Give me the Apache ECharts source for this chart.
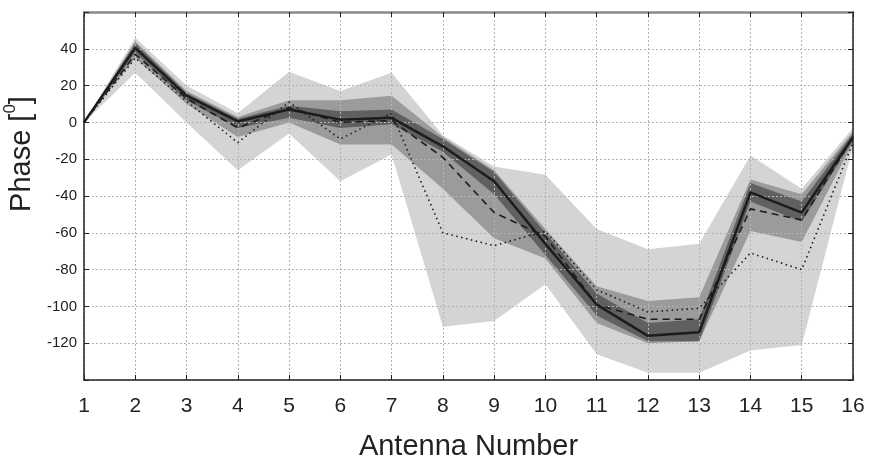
<!DOCTYPE html>
<html>
<head>
<meta charset="utf-8">
<script src="https://cdn.jsdelivr.net/npm/echarts@6/dist/echarts.min.js"></script>
<style>
  html, body { margin: 0; padding: 0; background: #fff; }
  #chart { width: 870px; height: 457px; }
</style>
</head>
<body>
<div id="chart"></div>
<script>
// antenna index along the x axis
var antennas = ["1", "2", "3", "4", "5", "6", "7", "8", "9", "10", "11", "12", "13", "14", "15", "16"];

// the three lines
var solidLine = [0, 40.5, 14.5, 0.5, 7, 1.5, 2.5, -13, -32, -66, -99, -116, -114, -38, -49, -8];
var dashedLine = [0, 37, 13, -3, 8, 0, 1, -19, -49, -62, -99, -107, -107, -47, -53, -8];
var dottedLine = [0, 35, 11.5, -11, 11, -9, 5, -60, -67, -59, -91, -103, -101, -71, -80, -11];

// shaded bands (outer light, middle, inner dark)
var lightLow = [0, 27, 0, -26, -6, -32, -17.5, -111, -108, -88, -126, -136, -136, -124, -121, -13];
var lightHigh = [0, 46, 20, 5, 27.5, 17, 27, -7, -24, -28.5, -58, -69, -66, -18, -36, -3];
var midLow = [0, 35, 10, -8, 0, -12, -12, -36, -63, -74, -109, -120, -119, -59, -65, -11];
var midHigh = [0, 44, 17, 3, 12, 12, 14.5, -8, -26, -58, -89, -97, -95, -31, -39, -5];
var darkLow = [0, 38, 12, -3, 2.5, -3, -1, -16, -39, -72, -105, -119, -119, -43, -54, -10];
var darkHigh = [0, 43, 16, 2, 9, 6, 7, -9, -27, -60, -93, -109, -107, -33, -43, -6];

// y tick values that get a label
var yTickLabels = [-120, -100, -80, -60, -40, -20, 0, 20, 40];

var chart = echarts.init(document.getElementById("chart"));

function widths(lo, hi) {
  return lo.map(function (v, i) { return hi[i] - v; });
}

// one band = invisible lower series + stacked width series with fill
function band(name, lo, hi, color) {
  return [
    {
      name: name + "_base",
      type: "line",
      data: lo,
      stack: name,
      stackStrategy: "all",
      symbol: "none",
      lineStyle: { opacity: 0 },
      silent: true,
      z: 1
    },
    {
      name: name,
      type: "line",
      data: widths(lo, hi),
      stack: name,
      stackStrategy: "all",
      symbol: "none",
      lineStyle: { opacity: 0 },
      areaStyle: { color: color, opacity: 1 },
      silent: true,
      z: 1
    }
  ];
}

var font = "Liberation Sans, Arial, sans-serif";
var gridLine = { show: true, lineStyle: { color: "#b4b4b4", type: [2, 2], width: 1 } };

var option = {
  backgroundColor: "#fff",
  animation: false,
  grid: { left: 84, right: 17, top: 12, bottom: 77, outerBoundsMode: "none" },
  xAxis: [
    {
      type: "category",
      data: antennas,
      boundaryGap: false,
      z: 1.5,
      axisLine: { onZero: false, lineStyle: { color: "#222", width: 1.5 } },
      axisTick: { inside: true, length: 5, alignWithLabel: true, lineStyle: { color: "#222" } },
      axisLabel: { fontSize: 21, color: "#222", fontFamily: font, margin: 16, interval: 0 },
      splitLine: { show: true, interval: 0, lineStyle: gridLine.lineStyle },
      name: "Antenna Number",
      nameLocation: "middle",
      nameGap: 52,
      nameTextStyle: { fontSize: 29, color: "#222", fontFamily: font }
    },
    {
      type: "category",
      data: antennas,
      boundaryGap: false,
      position: "top",
      z: 1.5,
      axisLine: { onZero: false, lineStyle: { color: "#8a8a8a", width: 2.5 } },
      axisTick: { inside: true, length: 5, interval: 0, lineStyle: { color: "#222" } },
      axisLabel: { show: false },
      splitLine: { show: false }
    }
  ],
  yAxis: [
    {
      type: "value",
      min: -140,
      max: 60,
      interval: 20,
      z: 1.5,
      axisLine: { show: true, onZero: false, lineStyle: { color: "#222", width: 1.5 } },
      axisTick: { show: true, inside: true, length: 5, lineStyle: { color: "#222" } },
      axisLabel: {
        fontSize: 15,
        color: "#222",
        fontFamily: font,
        margin: 7,
        formatter: function (v) { return yTickLabels.indexOf(v) >= 0 ? String(v) : ""; }
      },
      splitLine: gridLine,
      name: "{a|Phase [}{s|0}{a|]}",
      nameLocation: "middle",
      nameRotate: 90,
      nameGap: 36,
      nameTextStyle: {
        color: "#222",
        fontFamily: font,
        padding: [0, 0, 0, 84],
        rich: {
          a: { fontSize: 29, fontFamily: font, color: "#222", lineHeight: 34, verticalAlign: "bottom" },
          s: { fontSize: 17, fontFamily: font, color: "#222", lineHeight: 34, verticalAlign: "top" }
        }
      }
    },
    {
      type: "value",
      position: "right",
      min: -140,
      max: 60,
      interval: 20,
      z: 1.5,
      axisLine: { show: true, onZero: false, lineStyle: { color: "#222", width: 1.5 } },
      axisTick: { show: true, inside: true, length: 5, lineStyle: { color: "#222" } },
      axisLabel: { show: false },
      splitLine: { show: false }
    }
  ],
  series: []
    .concat(band("light", lightLow, lightHigh, "#d4d4d5"))
    .concat(band("mid", midLow, midHigh, "#9b9b9c"))
    .concat(band("dark", darkLow, darkHigh, "#606061"))
    .concat([
      {
        name: "solid",
        type: "line",
        data: solidLine,
        symbol: "none",
        lineStyle: { color: "#1c1c1c", width: 2.5 },
        z: 3
      },
      {
        name: "dashed",
        type: "line",
        data: dashedLine,
        symbol: "none",
        lineStyle: { color: "#1c1c1c", width: 1.6, type: [7, 5] },
        z: 3
      },
      {
        name: "dotted",
        type: "line",
        data: dottedLine,
        symbol: "none",
        lineStyle: { color: "#1c1c1c", width: 1.6, type: [1.5, 3.5] },
        z: 3
      }
    ])
};

chart.setOption(option);
</script>
</body>
</html>
